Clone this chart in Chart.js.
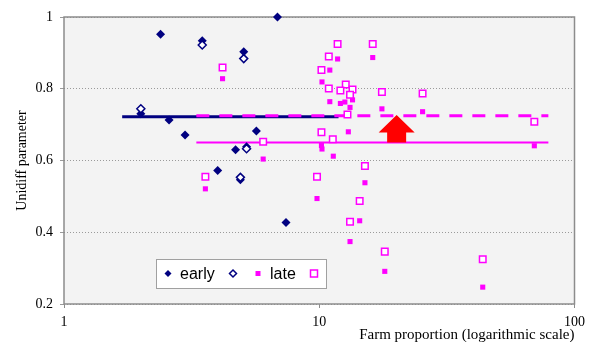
<!DOCTYPE html>
<html>
<head>
<meta charset="utf-8">
<script src="https://cdn.jsdelivr.net/npm/chart.js@4.4.1/dist/chart.umd.min.js"></script>
<style>
  html, body { margin: 0; padding: 0; background: #fff; }
  #wrap { width: 591px; height: 342px; }
</style>
</head>
<body>
<div id="wrap"><canvas id="unidiff" width="591" height="342"></canvas></div>
<script>
// datos (eje x logaritmico)
const earlyFilledX = [2.39, 3.48, 5.06, 6.86, 2.0, 2.58, 2.98, 5.67, 4.70, 5.19, 4.0, 4.91, 7.41];
const earlyFilledY = [0.952, 0.934, 0.903, 1.0, 0.730, 0.713, 0.671, 0.682, 0.630, 0.638, 0.572, 0.546, 0.427];
const earlyOpenX = [2.0, 3.48, 5.06, 5.19, 4.91];
const earlyOpenY = [0.744, 0.922, 0.884, 0.633, 0.553];

const lateFilledX = [4.18, 6.03, 3.58, 9.8, 16.2, 11.8, 11.0, 10.25, 13.5, 12.6, 12.1, 11.0, 13.2,
    17.6, 25.4, 69.6, 13.0, 10.2, 10.25, 11.35, 15.1, 14.4, 13.2, 18.06, 43.7];
const lateFilledY = [0.828, 0.604, 0.521, 0.494, 0.887, 0.883, 0.852, 0.819, 0.769, 0.763, 0.759, 0.764, 0.748,
    0.744, 0.736, 0.641, 0.680, 0.642, 0.632, 0.612, 0.538, 0.432, 0.374, 0.291, 0.247];
const lateOpenX = [4.18, 6.03, 3.58, 9.8, 11.8, 16.2, 10.9, 10.2, 10.9, 12.7, 12.1, 13.5, 13.2,
    17.6, 25.4, 12.9, 69.6, 10.2, 11.3, 15.1, 14.4, 13.2, 18.06, 43.7];
const lateOpenY = [0.859, 0.652, 0.555, 0.555, 0.925, 0.925, 0.890, 0.852, 0.801, 0.812, 0.795, 0.798, 0.783,
    0.791, 0.787, 0.728, 0.708, 0.679, 0.659, 0.585, 0.487, 0.429, 0.346, 0.325];

// lineas de media
const earlyMeanX = [1.69, 11.9];
const earlyMean = 0.722;
const lateMeanX = [3.3, 79];
const lateMeanDashed = 0.725;
const lateMeanSolid = 0.650;

// flecha roja: posicion x, base, cuello y punta
const arrowX = 20.1;
const arrowY = [0.650, 0.678, 0.727];

const xTicks = [1, 10, 100];
const yTicks = [0.2, 0.4, 0.6, 0.8, 1];

const navy = '#000080';
const magenta = '#ff00ff';
const serif = "'Liberation Serif', 'DejaVu Serif', serif";

const toPts = (xs, ys) => xs.map((x, i) => ({ x: x, y: ys[i] }));
const hLine = (xs, y) => xs.map(x => ({ x: x, y: y }));

// fondo gris y marco del area de trazado
const plotFrame = {
    id: 'plotFrame',
    beforeDraw(chart) {
        const a = chart.chartArea, ctx = chart.ctx;
        ctx.save();
        ctx.fillStyle = '#f3f3f3';
        ctx.fillRect(a.left, a.top, a.right - a.left, a.bottom - a.top);
        ctx.restore();
    },
    beforeDatasetsDraw(chart) {
        const a = chart.chartArea, ctx = chart.ctx;
        ctx.save();
        ctx.strokeStyle = '#8c8c8c';
        ctx.lineWidth = 1.5;
        ctx.strokeRect(a.left, a.top, a.right - a.left, a.bottom - a.top);
        ctx.restore();
    }
};

// flecha hacia arriba
const redArrow = {
    id: 'redArrow',
    afterDatasetsDraw(chart) {
        const ctx = chart.ctx;
        const cx = chart.scales.x.getPixelForValue(arrowX);
        const yb = chart.scales.y.getPixelForValue(arrowY[0]);
        const yn = chart.scales.y.getPixelForValue(arrowY[1]);
        const yt = chart.scales.y.getPixelForValue(arrowY[2]);
        const shaft = 9.5, head = 18;
        ctx.save();
        ctx.fillStyle = '#ff0000';
        ctx.beginPath();
        ctx.moveTo(cx - shaft, yb);
        ctx.lineTo(cx - shaft, yn);
        ctx.lineTo(cx - head, yn);
        ctx.lineTo(cx, yt);
        ctx.lineTo(cx + head, yn);
        ctx.lineTo(cx + shaft, yn);
        ctx.lineTo(cx + shaft, yb);
        ctx.closePath();
        ctx.fill();
        ctx.restore();
    }
};

// leyenda dentro del area de trazado
function diamond(ctx, x, y, r, fill, stroke) {
    ctx.beginPath();
    ctx.moveTo(x, y - r); ctx.lineTo(x + r, y); ctx.lineTo(x, y + r); ctx.lineTo(x - r, y);
    ctx.closePath();
    ctx.fillStyle = fill; ctx.fill();
    if (stroke) { ctx.strokeStyle = stroke; ctx.lineWidth = 1.5; ctx.stroke(); }
}
function square(ctx, x, y, s, fill, stroke) {
    ctx.fillStyle = fill;
    ctx.fillRect(x - s / 2, y - s / 2, s, s);
    if (stroke) { ctx.strokeStyle = stroke; ctx.lineWidth = 1.5; ctx.strokeRect(x - s / 2, y - s / 2, s, s); }
}
const innerLegend = {
    id: 'innerLegend',
    afterDraw(chart) {
        const a = chart.chartArea, ctx = chart.ctx;
        const x0 = a.left + 92, y0 = a.bottom - 45, w = 170, h = 29;
        const cy = y0 + h / 2;
        ctx.save();
        ctx.fillStyle = '#fff';
        ctx.fillRect(x0, y0, w, h);
        ctx.strokeStyle = '#a0a0a0';
        ctx.lineWidth = 1;
        ctx.strokeRect(x0 + 0.5, y0 + 0.5, w, h);
        diamond(ctx, x0 + 12, cy, 3.5, navy);
        diamond(ctx, x0 + 77, cy, 3.5, '#fff', navy);
        square(ctx, x0 + 102, cy, 5, magenta);
        square(ctx, x0 + 158, cy, 7, '#fff', magenta);
        ctx.fillStyle = '#000';
        ctx.font = "16px 'Liberation Sans', Arial, sans-serif";
        ctx.textBaseline = 'middle';
        ctx.fillText('early', x0 + 24, cy + 1);
        ctx.fillText('late', x0 + 114, cy + 1);
        ctx.restore();
    }
};

new Chart(document.getElementById('unidiff'), {
    type: 'scatter',
    data: {
        datasets: [{
            label: 'early',
            data: toPts(earlyOpenX, earlyOpenY),
            pointStyle: 'rectRot',
            pointRadius: 4,
            backgroundColor: '#fff',
            borderColor: navy,
            borderWidth: 1.5,
            clip: false,
            order: 0
        }, {
            label: 'early',
            data: toPts(earlyFilledX, earlyFilledY),
            pointStyle: 'rectRot',
            pointRadius: 4.5,
            backgroundColor: navy,
            borderColor: navy,
            borderWidth: 0,
            clip: false,
            order: 1
        }, {
            label: 'late',
            data: toPts(lateOpenX, lateOpenY),
            pointStyle: 'rect',
            pointRadius: 4.6,
            backgroundColor: '#fff',
            borderColor: magenta,
            borderWidth: 1.5,
            clip: false,
            order: 0
        }, {
            label: 'late',
            data: toPts(lateFilledX, lateFilledY),
            pointStyle: 'rect',
            pointRadius: 3.6,
            backgroundColor: magenta,
            borderColor: magenta,
            borderWidth: 0,
            clip: false,
            order: 1
        }, {
            type: 'line',
            label: 'late mean',
            data: hLine(lateMeanX, lateMeanDashed),
            borderColor: magenta,
            borderWidth: 3,
            borderDash: [13, 10],
            pointRadius: 0,
            order: 2
        }, {
            type: 'line',
            label: 'late mean 2',
            data: hLine(lateMeanX, lateMeanSolid),
            borderColor: magenta,
            borderWidth: 2,
            pointRadius: 0,
            order: 3
        }, {
            type: 'line',
            label: 'early mean',
            data: hLine(earlyMeanX, earlyMean),
            borderColor: navy,
            borderWidth: 3,
            pointRadius: 0,
            order: 4
        }]
    },
    options: {
        responsive: false,
        animation: false,
        layout: { padding: { left: 0, top: 17, right: 15, bottom: 0 } },
        plugins: {
            legend: { display: false },
            tooltip: { enabled: false }
        },
        scales: {
            x: {
                type: 'logarithmic',
                min: 1,
                max: 100,
                afterBuildTicks: s => { s.ticks = xTicks.map(v => ({ value: v })); },
                afterFit: s => { s.height = 38; },
                border: { display: false },
                grid: { drawOnChartArea: false, drawTicks: true, tickLength: 4, color: '#8c8c8c' },
                ticks: {
                    padding: 6,
                    color: '#000',
                    font: { family: serif, size: 14 },
                    maxRotation: 0,
                    callback: v => String(v)
                },
                title: {
                    display: true,
                    align: 'end',
                    text: 'Farm proportion (logarithmic scale)',
                    color: '#000',
                    font: { family: serif, size: 15 },
                    padding: { top: 0, bottom: -2 }
                }
            },
            y: {
                min: 0.2,
                max: 1,
                afterBuildTicks: s => { s.ticks = yTicks.map(v => ({ value: v })); },
                afterFit: s => { s.width = 64; },
                border: { display: false, dash: [1, 2] },
                grid: { color: '#9a9a9a', tickLength: 4, drawTicks: true },
                ticks: {
                    padding: 7,
                    color: '#000',
                    font: { family: serif, size: 14 },
                    callback: v => String(Number(v.toFixed(1)))
                },
                title: {
                    display: true,
                    text: 'Unidiff parameter',
                    color: '#000',
                    font: { family: serif, size: 14 },
                    padding: { top: 14, bottom: 0 }
                }
            }
        }
    },
    plugins: [plotFrame, redArrow, innerLegend]
});
</script>
</body>
</html>
